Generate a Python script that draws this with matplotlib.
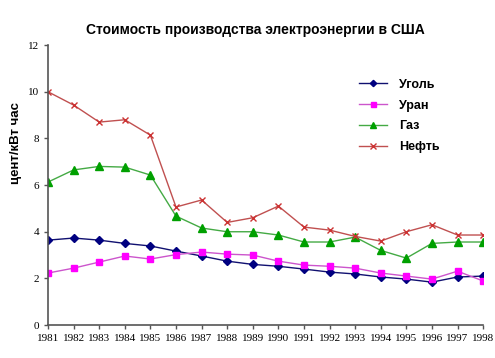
import numpy as np
import matplotlib.pyplot as plt

years = list(range(1981, 1999))

# цент/кВт час
coal = [3.64, 3.73, 3.64, 3.50, 3.39, 3.17, 2.96, 2.74, 2.60, 2.52, 2.40, 2.27, 2.19, 2.06, 1.97, 1.84, 2.06, 2.10]
uranium = [2.23, 2.44, 2.70, 2.96, 2.83, 3.02, 3.13, 3.04, 3.00, 2.74, 2.57, 2.52, 2.44, 2.23, 2.10, 1.97, 2.31, 1.89]
gas = [6.13, 6.65, 6.80, 6.77, 6.43, 4.67, 4.16, 4.00, 4.00, 3.86, 3.56, 3.56, 3.77, 3.20, 2.87, 3.50, 3.56, 3.56]
oil = [10.0, 9.43, 8.70, 8.80, 8.14, 5.06, 5.36, 4.40, 4.60, 5.10, 4.20, 4.07, 3.80, 3.60, 4.00, 4.30, 3.86, 3.86]

series = [
    ("Уголь", coal, "#000080", "#101070", "D", 4),
    ("Уран", uranium, "#FF00FF", "#CC55CC", "s", 4.5),
    ("Газ", gas, "#00A000", "#44AA44", "^", 5.5),
    ("Нефть", oil, "#CC3333", "#C05050", "x", 5),
]

fig = plt.figure(figsize=(4.95, 3.58), dpi=100)
ax = fig.add_axes([0.097, 0.092, 0.879, 0.782])

for name, vals, mc, lc, m, ms in series:
    ax.plot(years, vals, color=lc, lw=1.0, marker=m, markersize=ms,
            markerfacecolor=mc, markeredgecolor=mc, markeredgewidth=1.0, label=name)

ax.set_xlim(1981, 1998)
ax.set_ylim(0, 12)
ax.set_xticks(years)
ax.set_yticks(range(0, 13, 2))
for s in ["top", "right"]:
    ax.spines[s].set_visible(False)
for s in ["left", "bottom"]:
    ax.spines[s].set_color("#555555")
    ax.spines[s].set_linewidth(1.2)
ax.tick_params(axis="both", colors="#555555", length=3, width=1, labelcolor="black")
for lab in ax.get_xticklabels() + ax.get_yticklabels():
    lab.set_fontfamily("Liberation Serif")
    lab.set_fontsize(8)

fig.text(0.515, 0.915, "Стоимость производства электроэнергии в США",
         ha="center", va="center", fontsize=10, fontweight="bold", family="Liberation Sans")
fig.text(0.032, 0.60, "цент/кВт час", rotation=90, ha="center", va="center",
         fontsize=9.5, fontweight="bold", family="Liberation Sans")

leg = ax.legend(loc="upper left", bbox_to_anchor=(0.69, 0.92), frameon=False,
                prop={"family": "Liberation Sans", "weight": "bold", "size": 9},
                handlelength=2.2, labelspacing=0.7, handletextpad=1.0, markerscale=0.8)

fig.savefig("out.png", dpi=100)
